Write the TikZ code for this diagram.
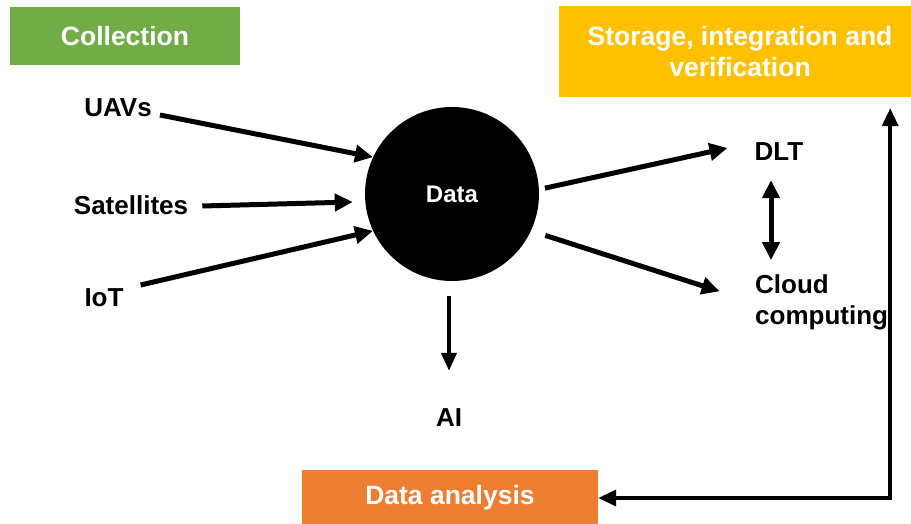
\documentclass[tikz,border=0pt]{standalone}
\usepackage{fontspec}
\setmainfont{Liberation Sans}
\usetikzlibrary{arrows.meta,positioning}
\definecolor{colgreen}{HTML}{70AD47}
\definecolor{storeyellow}{HTML}{FFC000}
\definecolor{anaorange}{HTML}{ED7D31}

\begin{document}
\begin{tikzpicture}[x=1pt, y=-1pt,
    header/.style={rectangle, text=white, inner sep=0pt, font=\fontsize{26.5}{31}\selectfont\bfseries},
    term/.style={inner sep=2pt, font=\fontsize{26}{31}\selectfont\bfseries},
    flow/.style={-{Triangle[length=18pt,width=17pt]}, line width=5pt},
    thinflow/.style={-{Triangle[length=18pt,width=15pt]}, line width=4pt}]
    \useasboundingbox (0,0) rectangle (911,524);

    % stage boxes
    \node[header, fill=colgreen, minimum width=230pt, minimum height=58pt] (collect) at (125,36) {Collection};
    \node[header, fill=storeyellow, minimum width=362pt, minimum height=91pt, align=center] (store) at (740,51.5) {Storage, integration and\\verification};
    \node[header, fill=anaorange, minimum width=296pt, minimum height=56pt] (analysis) at (450,498) {Data analysis};

    % central data hub
    \node[circle, fill=black, text=white, minimum size=174pt, font=\fontsize{24}{28}\selectfont\bfseries] (data) at (452,194) {Data};

    % sources and targets
    \node[term] (uav) at (118,108) {UAVs};
    \node[term] (sat) at (131,205) {Satellites};
    \node[term] (iot) at (104,298) {IoT};
    \node[term] (ai) at (449,418) {AI};
    \node[term] (dlt) at (779,152) {DLT};
    \node[term, anchor=west, align=left] (cloud) at (753,302) {Cloud\\computing};

    \draw[flow] ([xshift=6pt,yshift=-7pt]uav.east) -- (data.155);
    \draw[flow] ([xshift=12pt,yshift=-1pt]sat.east) -- ([xshift=-12pt,yshift=-8pt]data.west);
    \draw[flow] ([xshift=15pt,yshift=13pt]iot.east) -- (data.205);
    \draw[thinflow, shorten <=15pt, shorten >=36pt] ([xshift=-3pt]data.south) -- (ai.north);
    \draw[flow, shorten <=6pt] (data.3) -- ([xshift=-25pt,yshift=4pt]dlt.west);
    \draw[flow, shorten <=15pt, shorten >=35pt] (data.-25) -- (cloud.west);
    \draw[{Triangle[length=18pt,width=17pt]}-{Triangle[length=18pt,width=17pt]}, line width=5pt, shorten <=17pt, shorten >=12pt]
        ([xshift=-8pt]dlt.south) -- ([xshift=-8pt]dlt.south |- cloud.north);

    % feedback loop from analysis back to storage
    \draw[{Triangle[length=18pt,width=16pt]}-{Triangle[length=18pt,width=16pt]}, line width=3.5pt, shorten >=11pt]
        (analysis.east) -| ([xshift=-31pt]store.south east);
\end{tikzpicture}
\end{document}
